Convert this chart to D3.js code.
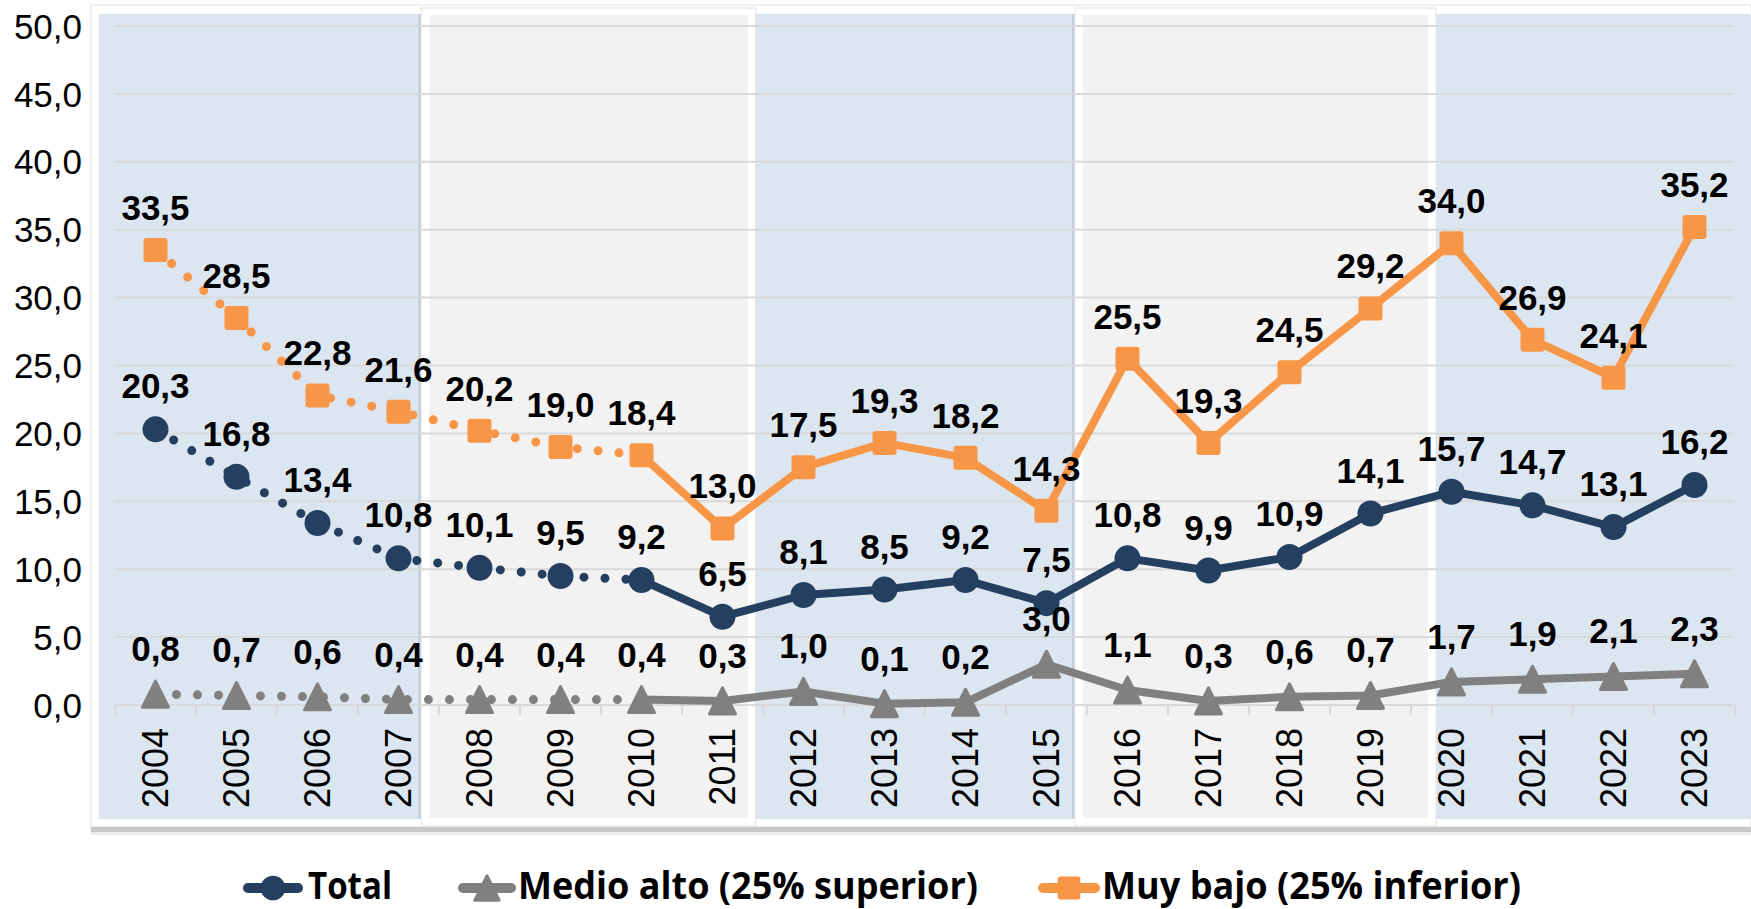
<!DOCTYPE html>
<html>
<head>
<meta charset="utf-8">
<script src="https://cdn.jsdelivr.net/npm/d3@7"></script>
<style>
  html, body { margin: 0; padding: 0; background: #fff; }
  svg { display: block; }
</style>
</head>
<body>
<div id="chart"></div>
<script>
// ---- data ----
const years = ['2004', '2005', '2006', '2007', '2008', '2009', '2010', '2011', '2012', '2013',
               '2014', '2015', '2016', '2017', '2018', '2019', '2020', '2021', '2022', '2023'];
const total     = [20.3, 16.8, 13.4, 10.8, 10.1, 9.5, 9.2, 6.5, 8.1, 8.5, 9.2, 7.5, 10.8, 9.9, 10.9, 14.1, 15.7, 14.7, 13.1, 16.2];
const medioAlto = [0.8, 0.7, 0.6, 0.4, 0.4, 0.4, 0.4, 0.3, 1.0, 0.1, 0.2, 3.0, 1.1, 0.3, 0.6, 0.7, 1.7, 1.9, 2.1, 2.3];
const muyBajo   = [33.5, 28.5, 22.8, 21.6, 20.2, 19.0, 18.4, 13.0, 17.5, 19.3, 18.2, 14.3, 25.5, 19.3, 24.5, 29.2, 34.0, 26.9, 24.1, 35.2];
const seriesNames = ['Total', 'Medio alto (25% superior)', 'Muy bajo (25% inferior)'];
const yTicks = [0, 5, 10, 15, 20, 25, 30, 35, 40, 45, 50];
const lastDottedYear = '2010';
// background panels behind the plot (alternating periods)
const panelKinds = ['blue', 'grey', 'blue', 'grey', 'blue'];

// ---- layout ----
const W = 1751, H = 909;
const plot = { left: 115, right: 1735, top: 26, bottom: 705 };
// panel edges in category units (the panels are not exactly on the category boundaries)
const panelEdges = [-0.2, 3.78, 7.91, 11.85, 16.31, 20.2];

const colors = { total: '#243f60', medio: '#808080', bajo: '#f79646' };
const styles = [
  { key: 'total', values: total,     color: colors.total, marker: 'circle',   labelDy: -31 },
  { key: 'medio', values: medioAlto, color: colors.medio, marker: 'triangle', labelDy: -33 },
  { key: 'bajo',  values: muyBajo,   color: colors.bajo,  marker: 'square',   labelDy: -30 }
];

const locale = d3.formatLocale({ decimal: ',', thousands: '.', grouping: [3], currency: ['', '€'] });
const fmt = locale.format('.1f');

const svg = d3.select('#chart').append('svg')
  .attr('width', W).attr('height', H)
  .attr('viewBox', `0 0 ${W} ${H}`);

const x = d3.scaleBand().domain(years).range([plot.left, plot.right]).padding(0);
const xi = d3.scaleLinear().domain([0, years.length]).range([plot.left, plot.right]);
const y = d3.scaleLinear().domain([0, 50]).range([plot.bottom, plot.top]);
const cx = d => x(d) + x.bandwidth() / 2;

// ---- chart frame ----
svg.append('rect').attr('x', 91).attr('y', 5).attr('width', W - 91).attr('height', 822)
  .attr('fill', '#fff').attr('stroke', '#ebebeb').attr('stroke-width', 1.5);
svg.append('rect').attr('x', 91).attr('y', 827).attr('width', W - 91).attr('height', 5).attr('fill', '#c8c8c8');
svg.append('rect').attr('x', 91).attr('y', 832).attr('width', W - 91).attr('height', 3).attr('fill', '#ececec');

// ---- background panels ----
const panels = svg.append('g').attr('class', 'panels');
panelKinds.forEach((kind, i) => {
  const x0 = xi(panelEdges[i]), x1 = xi(panelEdges[i + 1]);
  if (kind === 'blue') {
    panels.append('rect').attr('x', x0).attr('y', 14).attr('width', x1 - x0).attr('height', 805).attr('fill', '#dce6f1');
    if (i < panelKinds.length - 1) {
      panels.append('rect').attr('x', x1 - 3).attr('y', 14).attr('width', 3).attr('height', 805).attr('fill', '#c6d0dd');
    }
  } else {
    panels.append('rect').attr('x', x0).attr('y', 8).attr('width', x1 - x0).attr('height', 818)
      .attr('fill', '#fff').attr('stroke', '#e2e2e2').attr('stroke-width', 1);
    panels.append('rect').attr('x', x0 + 8).attr('y', 15).attr('width', x1 - x0 - 16).attr('height', 803).attr('fill', '#f2f2f2');
  }
});

// ---- grid and axes ----
svg.append('g').attr('class', 'grid')
  .selectAll('line').data(yTicks).enter().append('line')
  .attr('x1', plot.left).attr('x2', plot.right - 2)
  .attr('y1', d => y(d)).attr('y2', d => y(d))
  .attr('stroke', '#d9d9d9').attr('stroke-width', 2);

// category tick marks below the 0 line
svg.append('g').attr('class', 'xticks')
  .selectAll('line').data(d3.range(years.length + 1)).enter().append('line')
  .attr('x1', d => xi(d)).attr('x2', d => xi(d))
  .attr('y1', plot.bottom).attr('y2', plot.bottom + 10)
  .attr('stroke', '#d9d9d9').attr('stroke-width', 2);

svg.append('g').attr('class', 'ylabels')
  .selectAll('text').data(yTicks).enter().append('text')
  .attr('x', 82).attr('y', d => y(d)).attr('dy', '0.36em')
  .attr('text-anchor', 'end')
  .attr('font-family', '"Liberation Sans", Arial, sans-serif')
  .attr('font-size', 35).attr('fill', '#000')
  .text(d => fmt(d));

svg.append('g').attr('class', 'xlabels')
  .selectAll('text').data(years).enter().append('text')
  .attr('transform', d => `translate(${cx(d)},728) rotate(-90)`)
  .attr('dy', '0.36em')
  .attr('text-anchor', 'end')
  .attr('font-family', '"Liberation Sans", Arial, sans-serif')
  .attr('font-size', 36).attr('fill', '#000')
  .text(d => d);

// ---- lines ----
const splitIdx = years.indexOf(lastDottedYear);
const line = d3.line().x(d => cx(d.year)).y(d => y(d.value));
const linesG = svg.append('g').attr('class', 'lines');
const markersG = svg.append('g').attr('class', 'markers');
const labelsG = svg.append('g').attr('class', 'labels');

function drawMarker(g, kind, color, px, py, scale) {
  const s = scale || 1;
  if (kind === 'circle') {
    g.append('circle').attr('cx', px).attr('cy', py).attr('r', 13 * s).attr('fill', color);
  } else if (kind === 'square') {
    const a = 24 * s;
    g.append('rect').attr('x', px - a / 2).attr('y', py - a / 2).attr('width', a).attr('height', a)
      .attr('rx', 3 * s).attr('fill', color);
  } else {
    const hw = 13 * s, hh = 13 * s;
    g.append('path')
      .attr('d', `M${px},${py - hh}L${px + hw},${py + hh}L${px - hw},${py + hh}Z`)
      .attr('fill', color).attr('stroke', color).attr('stroke-width', 3 * s)
      .attr('stroke-linejoin', 'round');
  }
}

styles.forEach(s => {
  const pts = years.map((yr, i) => ({ year: yr, value: s.values[i] }));
  linesG.append('path').datum(pts.slice(0, splitIdx + 1))
    .attr('d', line).attr('fill', 'none')
    .attr('stroke', s.color).attr('stroke-width', 9)
    .attr('stroke-linecap', 'round').attr('stroke-dasharray', '0 21');
  linesG.append('path').datum(pts.slice(splitIdx))
    .attr('d', line).attr('fill', 'none')
    .attr('stroke', s.color).attr('stroke-width', 8)
    .attr('stroke-linejoin', 'round');
  pts.forEach(p => drawMarker(markersG, s.marker, s.color, cx(p.year), y(p.value)));
  labelsG.selectAll(null).data(pts).enter().append('text')
    .attr('x', d => cx(d.year)).attr('y', d => y(d.value) + s.labelDy)
    .attr('text-anchor', 'middle')
    .attr('font-family', '"Liberation Sans", Arial, sans-serif')
    .attr('font-weight', 'bold').attr('font-size', 35).attr('fill', '#000')
    .text(d => fmt(d.value));
});

// ---- legend ----
const legendItems = [
  { name: seriesNames[0], style: styles[0], x0: 243, x1: 303, tx: 308, tw: 84 },
  { name: seriesNames[1], style: styles[1], x0: 458, x1: 516, tx: 518, tw: 460 },
  { name: seriesNames[2], style: styles[2], x0: 1038, x1: 1100, tx: 1102, tw: 419 }
];
const legend = svg.append('g').attr('class', 'legend');
const ly = 888;
legendItems.forEach(it => {
  legend.append('line').attr('x1', it.x0 + 5).attr('x2', it.x1 - 5).attr('y1', ly).attr('y2', ly)
    .attr('stroke', it.style.color).attr('stroke-width', 10).attr('stroke-linecap', 'round');
  drawMarker(legend, it.style.marker, it.style.color, (it.x0 + it.x1) / 2, ly, 0.95);
  legend.append('text').attr('x', it.tx).attr('y', ly + 11)
    .attr('font-family', '"Liberation Sans Narrow", "Open Sans", Arial, sans-serif')
    .attr('font-weight', 'bold').attr('font-size', 37).attr('fill', '#000')
    .attr('textLength', it.tw).attr('lengthAdjust', 'spacingAndGlyphs')
    .text(it.name);
});
</script>
</body>
</html>
